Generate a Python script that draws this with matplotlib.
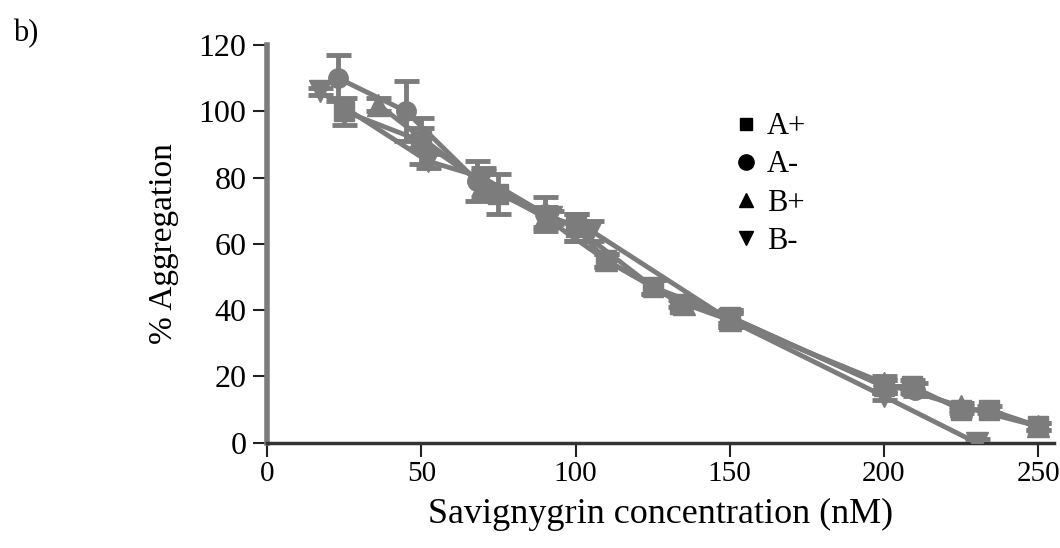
import matplotlib.pyplot as plt
from matplotlib.lines import Line2D

# series
a_plus_x = [25, 50, 75, 100, 110, 125, 134, 150, 200, 209, 225, 234, 250]
a_plus_y = [100, 91, 75, 65, 55, 47, 42, 38, 17, 17, 10, 10, 5]
a_plus_err = [4, 7, 6, 4, 2, 2, 1, 2, 2, 2, 1, 1, 1]

a_minus_x = [23, 45, 68, 90, 100, 125, 150, 200, 210]
a_minus_y = [110, 100, 79, 69, 65, 47, 38, 17, 16]
a_minus_err = [7, 9, 6, 5, 4, 2, 2, 2, 2]

b_plus_x = [36, 50, 70, 90, 110, 135, 150, 200, 225, 250]
b_plus_y = [102, 92, 78, 68, 55, 42, 37, 18, 11, 5]
b_plus_err = [2, 3, 4, 3, 2, 1, 2, 2, 1, 1]

b_minus_x = [17, 52, 70, 92, 105, 150, 200, 230]
b_minus_y = [106, 85, 80, 68, 64, 37, 14, 0]
b_minus_err = [1, 2, 3, 2, 3, 2, 1, 1]

labels = ['A+', 'A-', 'B+', 'B-']
markers = ['s', 'o', '^', 'v']

plt.rcParams['font.family'] = ['Liberation Serif', 'DejaVu Serif']

gray = '#7c7c7c'

fig = plt.figure(figsize=(10.6, 5.48), dpi=100)
ax = fig.add_axes([0.252, 0.192, 0.742, 0.726])

series = [
    (a_plus_x, a_plus_y, a_plus_err),
    (a_minus_x, a_minus_y, a_minus_err),
    (b_plus_x, b_plus_y, b_plus_err),
    (b_minus_x, b_minus_y, b_minus_err),
]
sizes = [14, 14, 16, 16]
for (x, y, e), m, s in zip(series, markers, sizes):
    ax.errorbar(x, y, yerr=e, color=gray, marker=m, markersize=s,
                linewidth=3.5, elinewidth=3.5, capsize=9, capthick=3.5,
                zorder=3)

ax.set_xlim(0, 255)
ax.set_ylim(0, 120)
ax.set_xticks([0, 50, 100, 150, 200, 250])
ax.set_yticks([0, 20, 40, 60, 80, 100, 120])
ax.spines['top'].set_visible(False)
ax.spines['right'].set_visible(False)
ax.spines['left'].set_color(gray)
ax.spines['left'].set_linewidth(4)
ax.spines['bottom'].set_color('#333333')
ax.spines['bottom'].set_linewidth(2.5)
ax.tick_params(axis='both', direction='out', length=10, width=1.5,
               labelsize=23, color='#222222', pad=5)
ax.tick_params(axis='x', labelsize=21, pad=3)
ax.set_xlabel('Savignygrin concentration (nM)', fontsize=26, labelpad=8)
ax.set_ylabel('% Aggregation', fontsize=24, labelpad=14)

handles = [Line2D([], [], color='black', marker=m, linestyle='none',
                  markersize=s) for m, s in zip(markers, [9, 11, 10, 10])]
ax.legend(handles, labels, loc='upper left', bbox_to_anchor=(0.55, 0.9),
          frameon=False, fontsize=22, handletextpad=0.1, labelspacing=0.3,
          handlelength=1.2)

fig.text(0.012, 0.965, 'b)', fontsize=22, va='top')

fig.savefig('out.png', dpi=100)
